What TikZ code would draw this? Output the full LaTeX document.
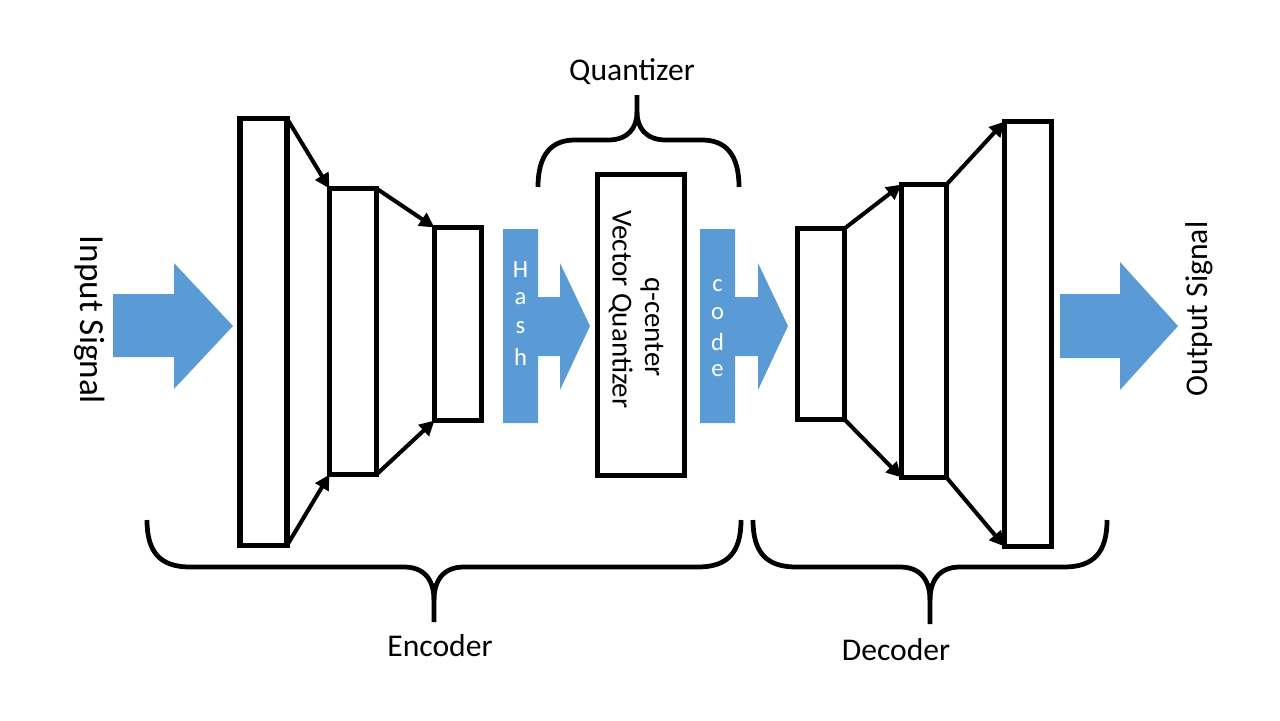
\documentclass[tikz,border=0pt]{standalone}
\usepackage{fontspec}
\setmainfont{Carlito}
\usetikzlibrary{arrows.meta,positioning}
\definecolor{ArrowBlue}{HTML}{5B9BD5}

\begin{document}
\begin{tikzpicture}[x=0.02cm,y=-0.02cm,
    layer/.style={draw,line width=3.3pt,minimum width=0.94cm,inner sep=0pt,outer sep=0pt},
    flow/.style={-{Triangle[length=8.5pt,width=8.5pt]},line width=2.3pt},
    bracket/.style={line width=2.7pt},
    bigtext/.style={font=\fontsize{18}{21}\selectfont},
    hashtext/.style={text=white,font=\fontsize{14}{16}\selectfont,inner sep=0pt}]
    \useasboundingbox (0,0) rectangle (1280,720);

    % encoder layers
    \node[layer,minimum height=8.54cm] (enc1) at (263.5,332) {};
    \node[layer,minimum height=5.72cm] (enc2) at (353,331.5) {};
    \node[layer,minimum height=3.86cm] (enc3) at (458,324) {};
    \draw[flow] (enc1.north east) -- (enc2.north west);
    \draw[flow] (enc1.south east) -- (enc2.south west);
    \draw[flow] (enc2.north east) -- (enc3.north west);
    \draw[flow] (enc2.south east) -- (enc3.south west);

    % quantizer
    \node[layer,minimum width=1.74cm,minimum height=6.02cm] (vq) at (641,325) {};
    \node[rotate=-90,align=center,font=\fontsize{16.5}{18.5}\selectfont] (vqtext) at (636,327)
      {q-center\\Vector Quantizer\hspace*{20pt}};

    % decoder layers
    \node[layer,minimum height=3.82cm] (dec1) at (821,324) {};
    \node[layer,minimum width=0.9cm,minimum height=5.86cm] (dec2) at (924,331) {};
    \node[layer,minimum height=8.5cm] (dec3) at (1028,334) {};
    \draw[flow] (dec1.north east) -- (dec2.north west);
    \draw[flow] (dec1.south east) -- (dec2.south west);
    \draw[flow] (dec2.north east) -- (dec3.north west);
    \draw[flow] (dec2.south east) -- (dec3.south west);

    % block arrows
    \fill[ArrowBlue] (113,294) -- (174,294) -- (174,263) -- (233,326) -- (174,389) -- (174,357) -- (113,357) -- cycle;
    \fill[ArrowBlue] (503,229) -- (538,229) -- (538,297) -- (560,297) -- (560,263) -- (590,326) -- (560,390) -- (560,356) -- (538,356) -- (538,423) -- (503,423) -- cycle;
    \fill[ArrowBlue] (700,229) -- (735,229) -- (735,297) -- (758,297) -- (758,263) -- (788,326) -- (758,390) -- (758,356) -- (735,356) -- (735,423) -- (700,423) -- cycle;
    \fill[ArrowBlue] (1060,294) -- (1120,294) -- (1120,262) -- (1178,326) -- (1120,390) -- (1120,358) -- (1060,358) -- cycle;
    \foreach \ch [count=\i] in {H,a,s,h}
      \node[hashtext] (hash\i) at (520.5,{241+29*\i}) {\ch};
    \foreach \ch [count=\i] in {c,o,d,e}
      \node[hashtext] (code\i) at (717.5,{257+28.5*\i}) {\ch};

    % braces
    \draw[bracket] (147,520) .. controls (147,552) and (160,567) .. (190,567) -- (404,567)
      .. controls (426,567) and (434,582) .. (434,600) -- (434,622);
    \draw[bracket] (741,520) .. controls (741,552) and (728,567) .. (698,567) -- (464,567)
      .. controls (442,567) and (434,582) .. (434,600);
    \draw[bracket] (753,520) .. controls (753,552) and (766,567) .. (796,567) -- (900,567)
      .. controls (922,567) and (930,582) .. (930,600) -- (930,624);
    \draw[bracket] (1107,520) .. controls (1107,552) and (1094,567) .. (1064,567) -- (960,567)
      .. controls (938,567) and (930,582) .. (930,600);
    \draw[bracket] (538,187) .. controls (538,155) and (551,140) .. (575,140) -- (608,140)
      .. controls (628,140) and (637,128) .. (637,112) -- (637,95);
    \draw[bracket] (739,187) .. controls (739,155) and (726,140) .. (702,140) -- (666,140)
      .. controls (646,140) and (637,128) .. (637,112);

    % labels
    \node[bigtext] (enclabel) at (440,646) {Encoder};
    \node[bigtext] (declabel) at (896,650) {Decoder};
    \node[bigtext] (vqlabel) at (632,72) {Quantizer};
    \node[bigtext,font=\fontsize{20}{24}\selectfont,rotate=-90] (inlabel) at (90,320) {Input Signal};
    \node[bigtext,rotate=90] (outlabel) at (1199,309) {Output Signal};
  \end{tikzpicture}
\end{document}
